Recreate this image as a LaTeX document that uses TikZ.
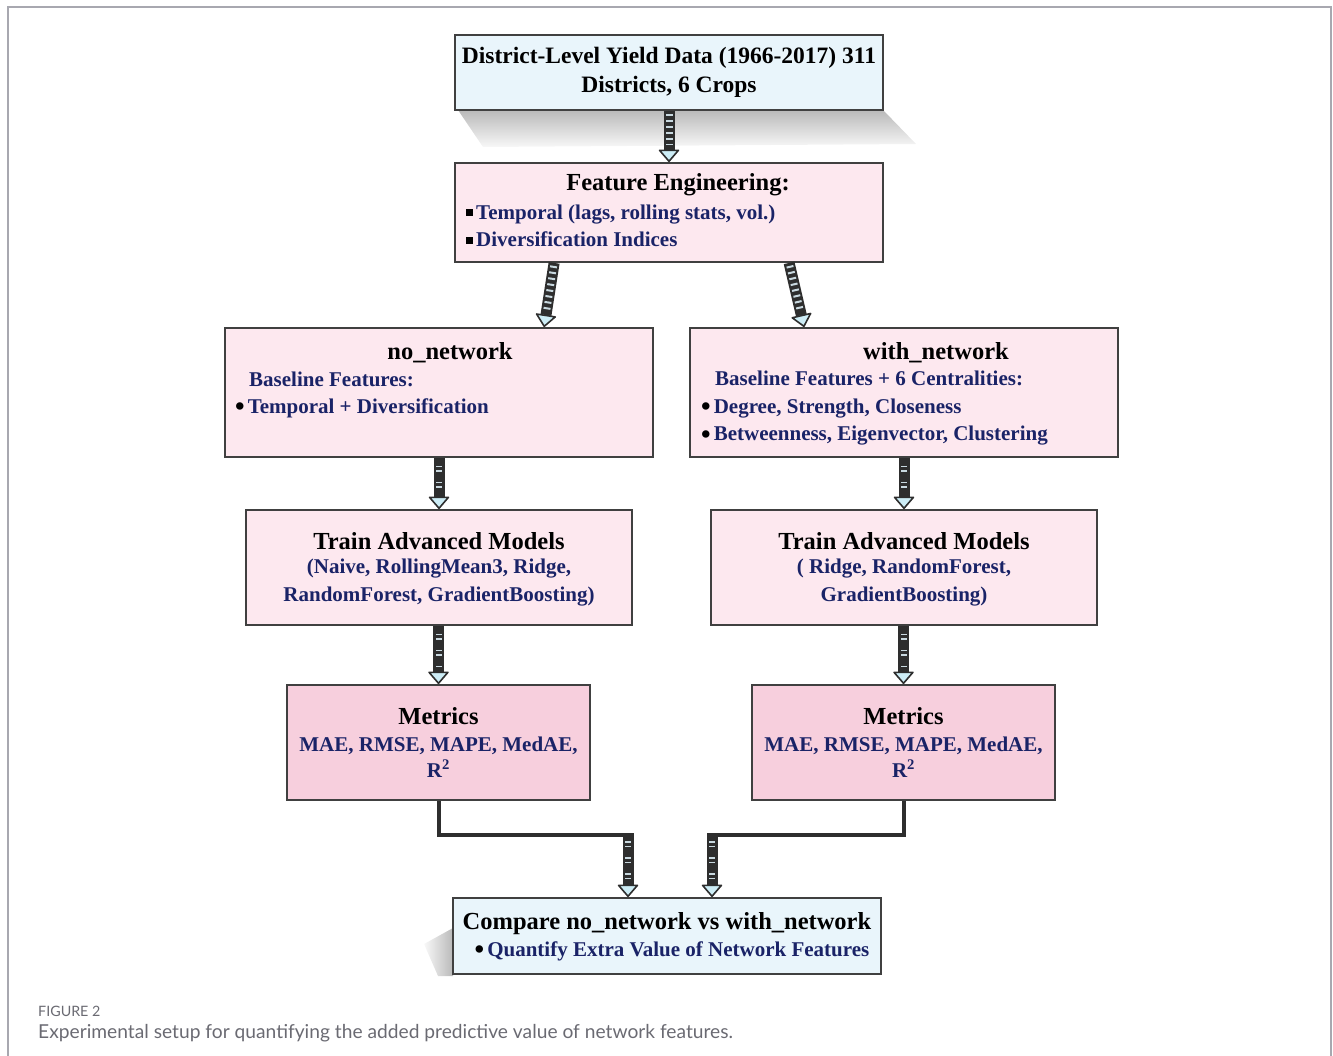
\documentclass[tikz,border=0pt]{standalone}
\usepackage{fontspec}
\setmainfont{Liberation Serif}
\newfontfamily\capfont{Lato}
\usetikzlibrary{arrows.meta,calc}
\definecolor{topblue}{HTML}{E9F5FB}
\definecolor{pinkbox}{HTML}{FDE8EF}
\definecolor{metpink}{HTML}{F7CFDD}
\definecolor{navy}{HTML}{1A2367}
\definecolor{boxline}{HTML}{404040}
\definecolor{headblue}{HTML}{CDEDF6}
\definecolor{stripecol}{HTML}{C9D9E0}
\definecolor{arrowdark}{HTML}{2E2E2E}
\definecolor{framecol}{HTML}{A8A8B0}
\definecolor{capgray}{HTML}{6A6A72}
\newcommand\sqbul{{\color{black}\raisebox{3pt}{\rule{7pt}{7pt}}}\hspace{3pt}}
\newcommand\rdbul{{\color{black}\raisebox{-2.2pt}{\scalebox{1.3}{\textbullet}}}\hspace{3pt}}
\newcommand\striparrow[3][]{%
  \draw[shaft] #2 -- #3;
  \draw[stripes,#1] #2 -- #3;}
\tikzset{
  box/.style={draw=boxline, line width=1.8pt, minimum width=#1, inner sep=0pt},
  ttl/.style={font=\fontsize{24.5}{27}\selectfont\bfseries, text=black, inner sep=0pt},
  bod/.style={font=\fontsize{21}{27.5}\selectfont\bfseries, text=navy, inner sep=0pt},
  shaft/.style={line width=11pt, draw=arrowdark,
    -{Triangle[width=22pt,length=13pt,line width=1.6pt,fill=headblue,round]}},
  stripes/.style={line width=7pt, draw=stripecol, dash pattern=on 2pt off 4pt,
    shorten >=17pt, shorten <=3pt},
  sparse/.style={dash pattern=on 1.5pt off 3pt on 1.5pt off 10pt, line width=6pt, shorten <=8pt},
  elbow/.style={draw=arrowdark, line width=4pt},
}
\begin{document}
\begin{tikzpicture}[x=1pt,y=-1pt]
\useasboundingbox (0,0) rectangle (1333,1056);
\draw[framecol, line width=1.5pt] (8,1070) -- (8,7) -- (1331,7) -- (1331,1070);
% shadows
\shade[top color=gray!55, bottom color=gray!6] (458,110) -- (883,110) -- (916,144) -- (483,147) -- cycle;
\shade[left color=gray!5, right color=gray!55] (453,928) -- (424,944) -- (438,976) -- (453,976) -- cycle;
% boxes
\node[box=428pt, minimum height=75pt, fill=topblue] (top) at (669,72.5) {};
\node[box=428pt, minimum height=99pt, fill=pinkbox] (fe) at (669,212.5) {};
\node[box=428pt, minimum height=129pt, fill=pinkbox] (nn) at (439,392.5) {};
\node[box=428pt, minimum height=129pt, fill=pinkbox] (wn) at (904,392.5) {};
\node[box=386pt, minimum height=115pt, fill=pinkbox] (tl) at (439,567.5) {};
\node[box=386pt, minimum height=115pt, fill=pinkbox] (tr) at (904,567.5) {};
\node[box=303pt, minimum height=115pt, fill=metpink] (ml) at (438.5,742.5) {};
\node[box=303pt, minimum height=115pt, fill=metpink] (mr) at (903.5,742.5) {};
\node[box=428pt, minimum height=76pt, fill=topblue] (cmp) at (667,936) {};
% texts
\node[ttl, align=center, font=\fontsize{23.5}{29}\selectfont\bfseries] (topt) at (669,72) {District-Level Yield Data (1966-2017) 311\\Districts, 6 Crops};
\node[ttl] (fet) at (678,185) {Feature Engineering:};
\node[bod, anchor=west, align=left] (feb) at (466,226) {\sqbul Temporal (lags, rolling stats, vol.)\\\sqbul Diversification Indices};
\node[ttl] (nnt) at (450,353) {no\_network};
\node[bod, anchor=west, align=left] (nnb) at (235,395) {\hspace{14pt}Baseline Features:\\\rdbul Temporal + Diversification};
\node[ttl] (wnt) at (936,353) {with\_network};
\node[bod, anchor=west, align=left] (wnb) at (701,408.5) {\hspace{14pt}Baseline Features + 6 Centralities:\\\rdbul Degree, Strength, Closeness\\\rdbul Betweenness, Eigenvector, Clustering};
\node[ttl] (tlt) at (439,541) {Train Advanced Models};
\node[bod, align=center] (tlb) at (439,582.5) {(Naive, RollingMean3, Ridge,\\RandomForest, GradientBoosting)};
\node[ttl] (trt) at (904,541) {Train Advanced Models};
\node[bod, align=center] (trb) at (904,582.5) {( Ridge, RandomForest,\\GradientBoosting)};
\node[ttl] (mlt) at (438.5,716) {Metrics};
\node[bod, align=center, font=\fontsize{21}{26}\selectfont\bfseries] (mlb) at (438.5,757) {MAE, RMSE, MAPE, MedAE,\\R$^{\mathbf{2}}$};
\node[ttl] (mrt) at (903.5,716) {Metrics};
\node[bod, align=center, font=\fontsize{21}{26}\selectfont\bfseries] (mrb) at (903.5,757) {MAE, RMSE, MAPE, MedAE,\\R$^{\mathbf{2}}$};
\node[ttl] (cmpt) at (667,924) {Compare no\_network vs with\_network};
\node[bod] (cmpb) at (672,951) {\rdbul Quantify Extra Value of Network Features};
% connectors
\striparrow{(top.south)}{(fe.north)}
\striparrow{([xshift=100pt]fe.south west)}{([xshift=320pt]nn.north west)}
\striparrow{([xshift=335pt]fe.south west)}{([xshift=115pt]wn.north west)}
\striparrow[sparse]{(nn.south)}{(tl.north)}
\striparrow[sparse]{(wn.south)}{(tr.north)}
\striparrow[sparse]{([xshift=-0.5pt]tl.south)}{(ml.north)}
\striparrow[sparse]{([xshift=-0.5pt]tr.south)}{(mr.north)}
\coordinate (jl) at (628,835);
\coordinate (jr) at (712,835);
\draw[elbow] (ml.south) |- ([xshift=5pt]jl);
\draw[elbow] (mr.south) |- ([xshift=-5pt]jr);
\striparrow[sparse]{([yshift=2pt]jl)}{(cmp.north -| jl)}
\striparrow[sparse]{([yshift=2pt]jr)}{(cmp.north -| jr)}
% caption
\node[anchor=west, font=\capfont\fontsize{14.3}{16}\selectfont, text=capgray, inner sep=0pt] (fig) at (38,1011) {FIGURE 2};
\node[anchor=west, font=\capfont\fontsize{19.2}{22}\selectfont, text=capgray, inner sep=0pt] (cap) at (38,1033) {Experimental setup for quantifying the added predictive value of network features.};
\end{tikzpicture}
\end{document}
